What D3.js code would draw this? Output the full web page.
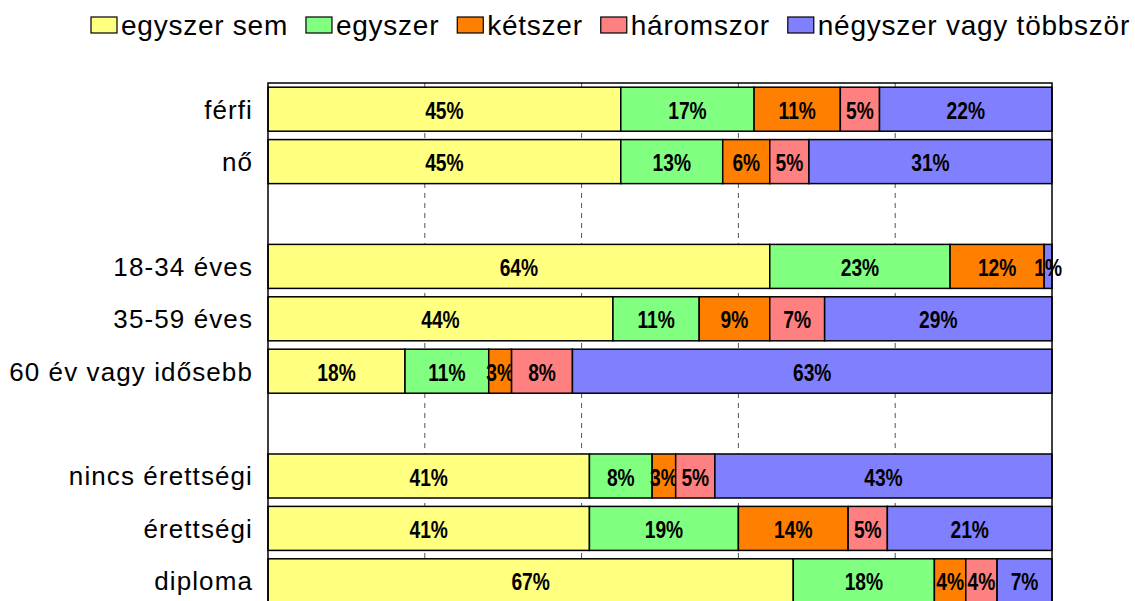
<!DOCTYPE html>
<html>
<head>
<meta charset="utf-8">
<script src="https://cdn.jsdelivr.net/npm/d3@7"></script>
<style>
  body { margin: 0; background: #fff; }
  svg { display: block; }
</style>
</head>
<body>
<svg id="chart"></svg>
<script>
// rows, top to bottom; null = empty spacer row
const categories = ["férfi", "nő", null, "18-34 éves", "35-59 éves", "60 év vagy idősebb", null, "nincs érettségi", "érettségi", "diploma"];
const seriesNames = ["egyszer sem", "egyszer", "kétszer", "háromszor", "négyszer vagy többször"];
const colors = ["#ffff80", "#80ff80", "#ff8000", "#ff8080", "#8080ff"];

// percentages per series, same order as categories (spacers get 0)
const egyszerSem = [45, 45, 0, 64, 44, 18, 0, 41, 41, 67];
const egyszer    = [17, 13, 0, 23, 11, 11, 0,  8, 19, 18];
const ketszer    = [11,  6, 0, 12,  9,  3, 0,  3, 14,  4];
const haromszor  = [ 5,  5, 0,  0,  7,  8, 0,  5,  5,  4];
const negyszer   = [22, 31, 0,  1, 29, 63, 0, 43, 21,  7];
const gridTicks = [0.2, 0.4, 0.6, 0.8];

const width = 1135, height = 601;
const margin = {top: 83, left: 268, right: 83};
const plotW = width - margin.left - margin.right;
const plotH = 524;

const svg = d3.select("#chart").attr("width", width).attr("height", height);

const allSeries = [egyszerSem, egyszer, ketszer, haromszor, negyszer];
const rows = categories.map((c, i) => {
    const r = {idx: i, name: c};
    seriesNames.forEach((s, j) => r[s] = allSeries[j][i]);
    return r;
});

// 100% stacking (row totals are not always exactly 100)
const stacked = d3.stack()
    .keys(seriesNames)
    .offset(d3.stackOffsetExpand)(rows.filter(r => r.name !== null));

const x = d3.scaleLinear().domain([0, 1]).range([margin.left, margin.left + plotW]);
const y = d3.scaleBand()
    .domain(d3.range(categories.length))
    .range([margin.top, margin.top + plotH])
    .paddingInner(0.16)
    .paddingOuter(0.08);

// dashed gridlines
svg.append("g")
    .selectAll("line")
    .data(gridTicks)
    .join("line")
    .attr("x1", d => x(d)).attr("x2", d => x(d))
    .attr("y1", margin.top).attr("y2", margin.top + plotH)
    .attr("stroke", "#555")
    .attr("stroke-width", 1)
    .attr("stroke-dasharray", "5,5");

// bars
const layer = svg.append("g")
    .selectAll("g")
    .data(stacked)
    .join("g")
    .attr("fill", (d, i) => colors[i]);

layer.selectAll("rect")
    .data(d => d.filter(p => p[1] > p[0]))
    .join("rect")
    .attr("x", d => x(d[0]))
    .attr("width", d => x(d[1]) - x(d[0]))
    .attr("y", d => y(d.data.idx))
    .attr("height", y.bandwidth())
    .attr("stroke", "#000")
    .attr("stroke-width", 1.5);

// value labels - narrow bold look, squeezed horizontally
layer.selectAll("text")
    .data((d) => d.filter(p => p[1] > p[0]).map(p => ({p: p, key: d.key})))
    .join("text")
    .attr("transform", d => `translate(${(x(d.p[0]) + x(d.p[1])) / 2},${y(d.p.data.idx) + y.bandwidth() / 2 + 1}) scale(0.8,1)`)
    .attr("dy", "0.36em")
    .attr("text-anchor", "middle")
    .attr("fill", "#000")
    .style("font-family", "'Liberation Sans', Arial, sans-serif")
    .style("font-weight", "bold")
    .style("font-size", "24px")
    .text(d => d.p.data[d.key] + "%");

// plot border
svg.append("rect")
    .attr("x", margin.left).attr("y", margin.top)
    .attr("width", plotW).attr("height", plotH)
    .attr("fill", "none")
    .attr("stroke", "#000")
    .attr("stroke-width", 1.5);

// category labels
svg.append("g")
    .selectAll("text")
    .data(rows.filter(r => r.name !== null))
    .join("text")
    .attr("x", margin.left - 15)
    .attr("y", d => y(d.idx) + y.bandwidth() / 2)
    .attr("dy", "0.36em")
    .attr("text-anchor", "end")
    .style("font-family", "'Liberation Sans', Arial, sans-serif")
    .style("font-size", "26px")
    .style("letter-spacing", "1.1px")
    .text(d => d.name);

// legend
const legend = svg.append("g");
let lx = 91;
seriesNames.forEach((s, i) => {
    legend.append("rect")
        .attr("x", lx).attr("y", 17)
        .attr("width", 26).attr("height", 16)
        .attr("fill", colors[i])
        .attr("stroke", "#000")
        .attr("stroke-width", 1.2);
    const t = legend.append("text")
        .attr("x", lx + 30).attr("y", 35)
        .style("font-family", "'Liberation Sans', Arial, sans-serif")
        .style("font-size", "28px")
        .style("letter-spacing", "0.75px")
        .text(s);
    lx += 30 + t.node().getComputedTextLength() + 18;
});
</script>
</body>
</html>
